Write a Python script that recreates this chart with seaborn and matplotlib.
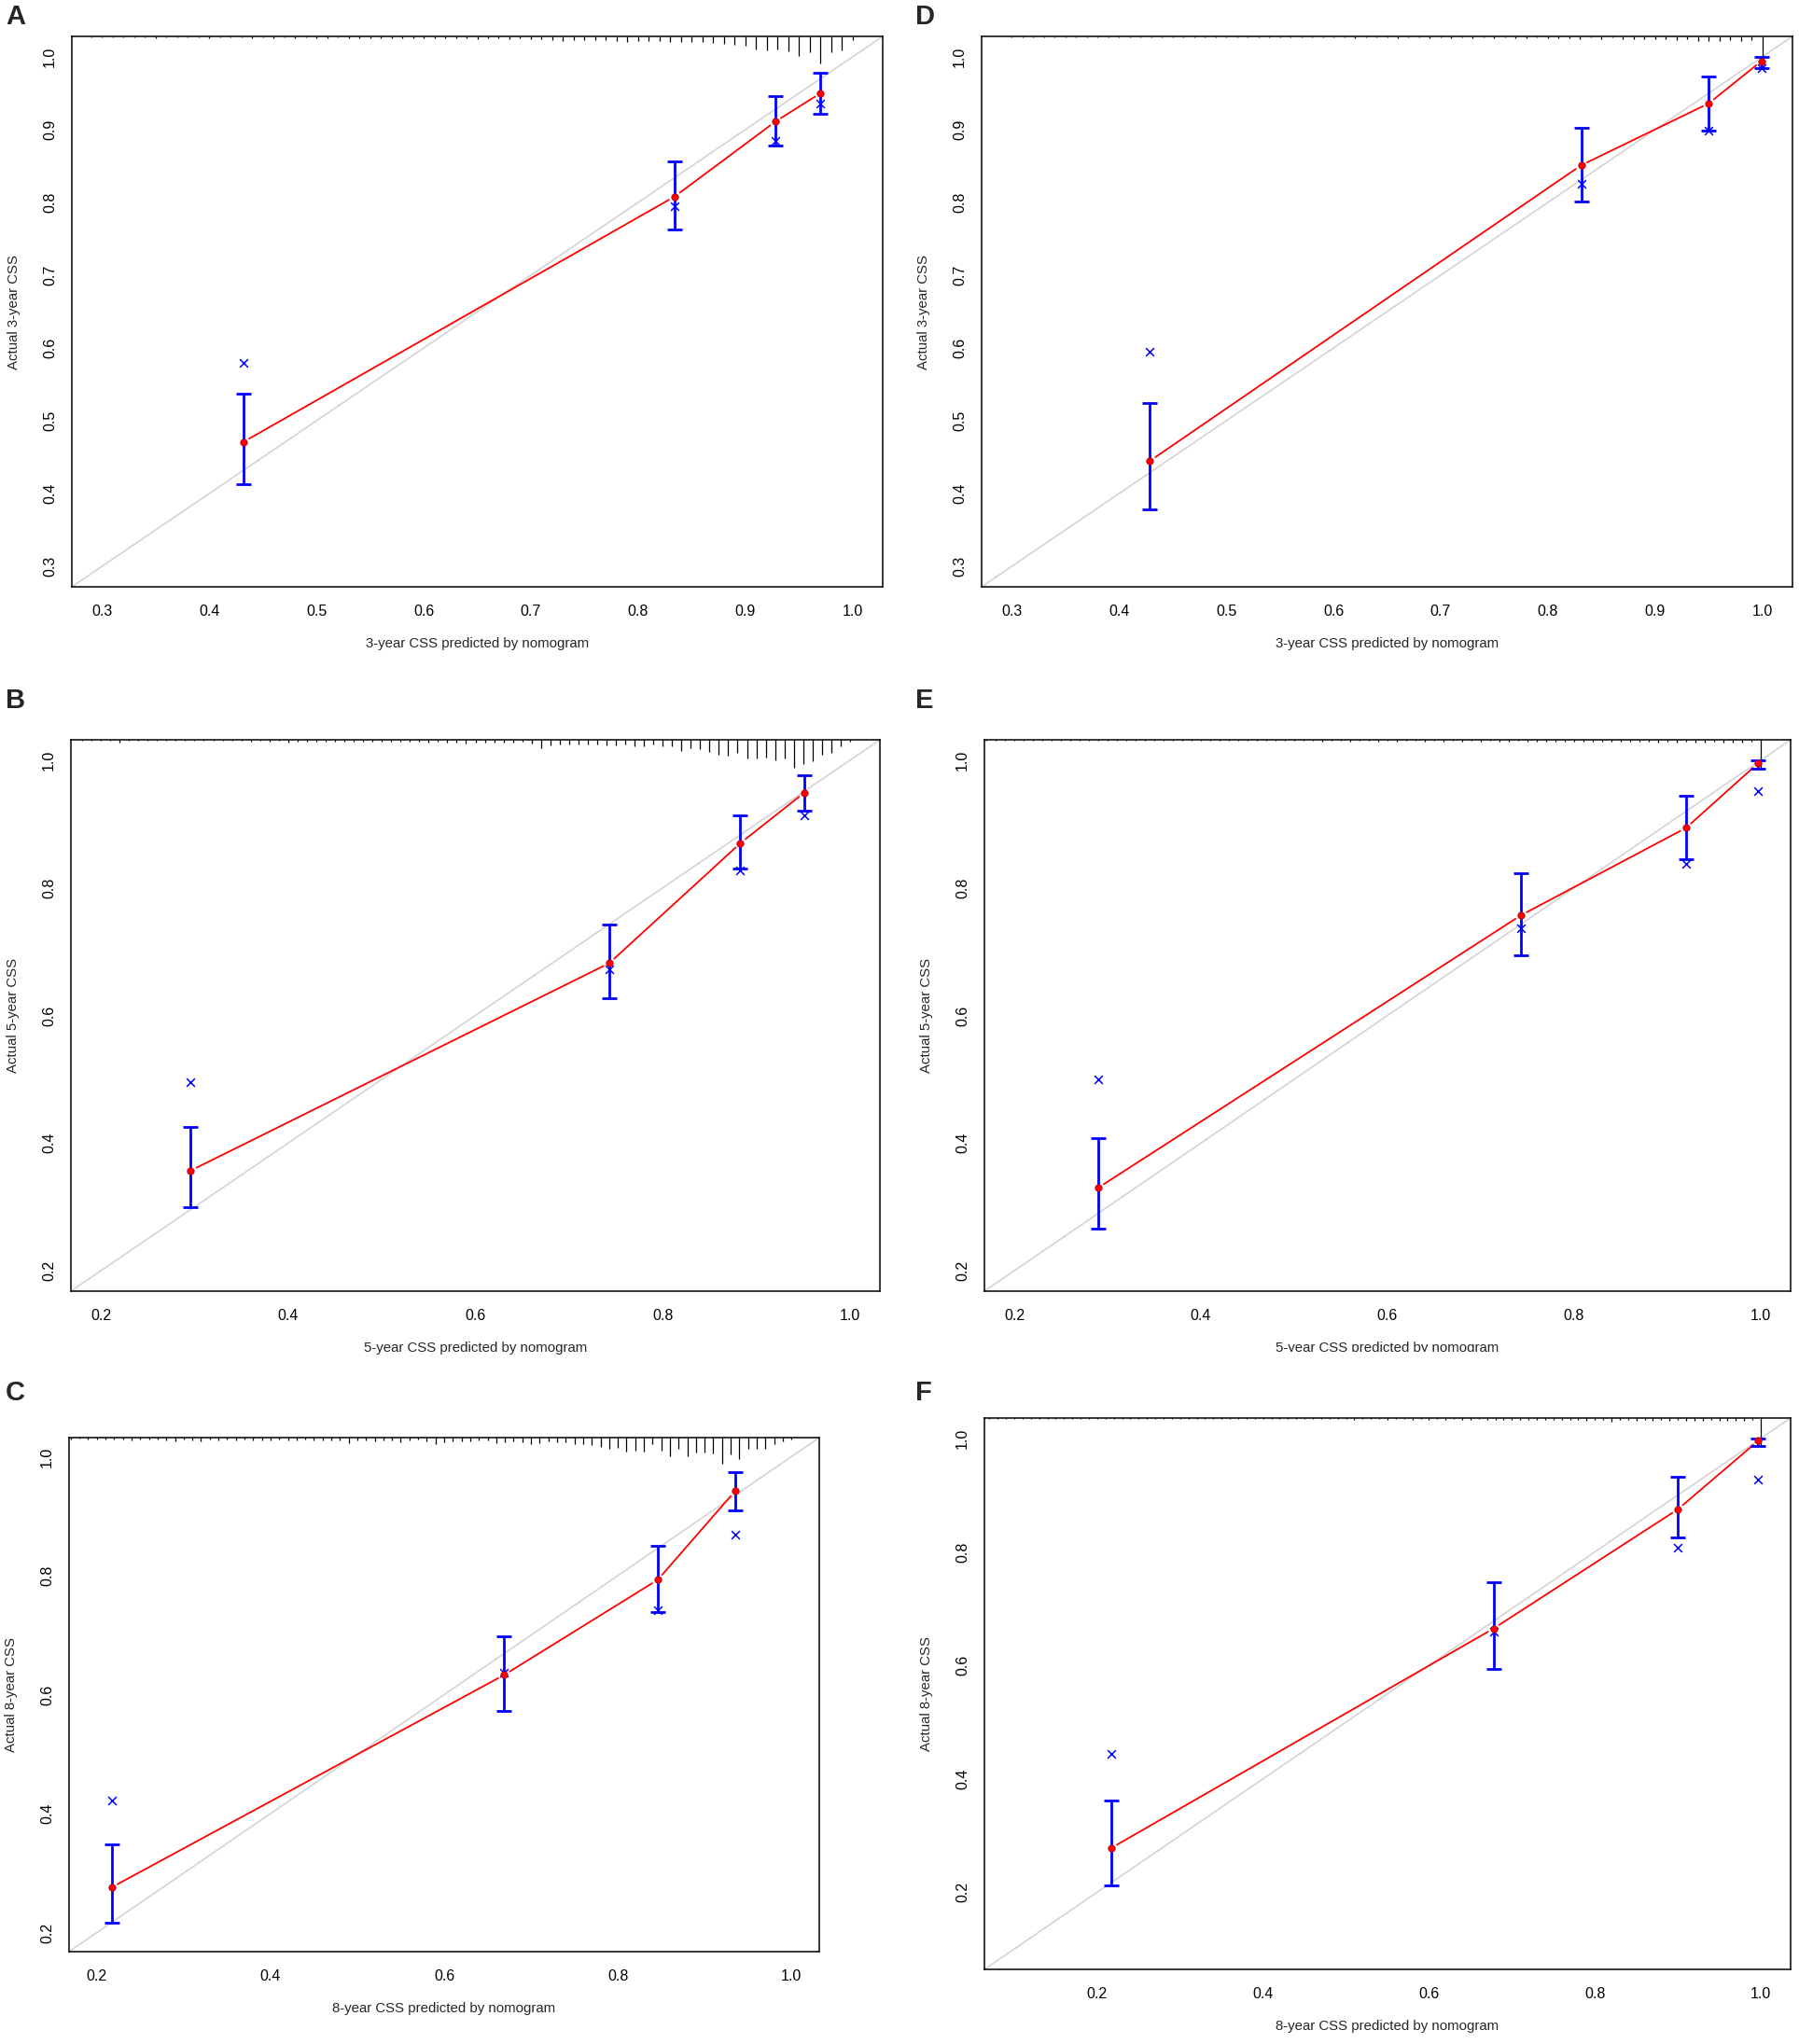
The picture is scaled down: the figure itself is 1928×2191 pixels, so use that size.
import numpy as np
import pandas as pd
import matplotlib
matplotlib.use("Agg")
import matplotlib.pyplot as plt
import seaborn as sns
from matplotlib.patches import Rectangle

sns.set_style("white")
plt.rcParams['font.family'] = ['Liberation Sans', 'DejaVu Sans']

# ---------------- data ----------------
panel_letters = ["A", "B", "C", "D", "E", "F"]
panel_years = [3, 5, 8, 3, 5, 8]

# predicted, observed (red dots), CI low, CI high, bias-corrected (blue x)
A_pred = [0.432, 0.834, 0.928, 0.970]
A_obs = [0.471, 0.808, 0.911, 0.950]
A_lo = [0.413, 0.763, 0.878, 0.922]
A_hi = [0.537, 0.856, 0.946, 0.978]
A_bc = [0.580, 0.795, 0.885, 0.936]

B_pred = [0.296, 0.743, 0.883, 0.951]
B_obs = [0.357, 0.682, 0.870, 0.949]
B_lo = [0.299, 0.627, 0.830, 0.921]
B_hi = [0.425, 0.743, 0.913, 0.977]
B_bc = [0.496, 0.672, 0.827, 0.914]

C_pred = [0.217, 0.669, 0.846, 0.935]
C_obs = [0.276, 0.633, 0.793, 0.942]
C_lo = [0.217, 0.573, 0.739, 0.909]
C_hi = [0.348, 0.698, 0.850, 0.974]
C_bc = [0.422, 0.637, 0.742, 0.869]

D_pred = [0.429, 0.831, 0.950, 0.999]
D_obs = [0.445, 0.851, 0.936, 0.994]
D_lo = [0.378, 0.801, 0.899, 0.985]
D_hi = [0.524, 0.903, 0.973, 1.000]
D_bc = [0.595, 0.825, 0.899, 0.985]

E_pred = [0.290, 0.743, 0.920, 0.997]
E_obs = [0.330, 0.757, 0.894, 0.995]
E_lo = [0.266, 0.695, 0.845, 0.986]
E_hi = [0.408, 0.823, 0.944, 1.000]
E_bc = [0.500, 0.737, 0.837, 0.952]

F_pred = [0.217, 0.678, 0.900, 0.997]
F_obs = [0.278, 0.665, 0.875, 0.996]
F_lo = [0.212, 0.593, 0.825, 0.986]
F_hi = [0.361, 0.747, 0.932, 1.000]
F_bc = [0.444, 0.660, 0.807, 0.927]

# relative spike heights of the predicted-risk histogram (bins of 0.01 ending at 1.00)
A_rug = [0.03, 0.04, 0.05, 0.04, 0.05, 0.04, 0.06, 0.04, 0.05, 0.05, 0.04, 0.06, 0.05, 0.05,
         0.04, 0.06, 0.05, 0.07, 0.05, 0.06, 0.05, 0.06, 0.07, 0.05, 0.06, 0.07, 0.06, 0.08,
         0.06, 0.07, 0.06, 0.08, 0.07, 0.06, 0.08, 0.07, 0.09, 0.07, 0.08, 0.09, 0.08,
         0.09, 0.10, 0.12, 0.17, 0.12, 0.12, 0.12, 0.14, 0.17, 0.21, 0.17, 0.17, 0.17, 0.19,
         0.20, 0.21, 0.22, 0.23, 0.28, 0.31, 0.34, 0.48, 0.50, 0.48, 0.53, 0.70, 0.59, 1.00,
         0.56, 0.50, 0.12]
B_rug = [0.05, 0.05, 0.04, 0.05, 0.10, 0.05, 0.05, 0.04, 0.05, 0.04, 0.05, 0.04, 0.03, 0.05,
         0.04, 0.05, 0.05, 0.05, 0.06, 0.05, 0.06, 0.05, 0.10, 0.06, 0.07, 0.06, 0.07, 0.07,
         0.06, 0.07, 0.07, 0.08, 0.07, 0.07, 0.08, 0.07, 0.08, 0.09, 0.08, 0.10, 0.09, 0.12,
         0.10, 0.10, 0.09, 0.11, 0.10,
         0.08, 0.14, 0.29, 0.20, 0.17, 0.17, 0.17, 0.17, 0.17, 0.20, 0.20, 0.17, 0.25, 0.23,
         0.17, 0.23, 0.25, 0.40, 0.31, 0.34, 0.43, 0.54, 0.57, 0.48, 0.66, 0.66, 0.63, 0.75,
         0.69, 1.00, 0.89, 0.77, 0.54, 0.48, 0.25, 0.08]
C_rug = [0.06, 0.05, 0.06, 0.08, 0.06, 0.08, 0.06, 0.10, 0.07, 0.08, 0.06, 0.10, 0.15, 0.08,
         0.10, 0.15, 0.08, 0.10, 0.09, 0.12, 0.08, 0.10, 0.12, 0.10, 0.09, 0.12, 0.10, 0.09,
         0.12, 0.10, 0.12, 0.10, 0.20, 0.10, 0.12, 0.15, 0.10, 0.12, 0.18,
         0.12, 0.09, 0.15, 0.27, 0.18, 0.15, 0.15, 0.15, 0.12, 0.12, 0.21, 0.18, 0.15, 0.18,
         0.24, 0.21, 0.15, 0.18, 0.18, 0.27, 0.27, 0.30, 0.37, 0.43, 0.39, 0.55, 0.51, 0.55,
         0.24, 0.51, 0.73, 0.43, 0.73, 0.57, 0.57, 0.63, 1.00, 0.67, 0.83, 0.45, 0.45, 0.45,
         0.27, 0.15, 0.09]
D_rug = [0.03, 0.04, 0.03, 0.04, 0.05, 0.03, 0.04, 0.04, 0.03, 0.05, 0.04, 0.03, 0.04, 0.05,
         0.04, 0.03, 0.04, 0.05, 0.04, 0.04, 0.03, 0.05, 0.04, 0.04, 0.05, 0.03, 0.04, 0.05,
         0.04, 0.05, 0.04, 0.05, 0.06, 0.04, 0.05, 0.04, 0.06, 0.05, 0.04, 0.06, 0.05, 0.06,
         0.05, 0.07, 0.05, 0.06, 0.05, 0.07, 0.06, 0.05, 0.07, 0.06, 0.07,
         0.11, 0.05, 0.09, 0.05, 0.09, 0.11, 0.09, 0.11, 0.11, 0.13, 0.11, 0.16, 0.16, 0.16,
         0.13, 0.16, 0.13, 1.00]
E_rug = [0.03, 0.04, 0.03, 0.04, 0.03, 0.05, 0.03, 0.04, 0.04, 0.03, 0.05, 0.04, 0.03, 0.04,
         0.05, 0.04, 0.03, 0.04, 0.05, 0.04, 0.04, 0.03, 0.05, 0.04, 0.04, 0.05, 0.03, 0.04,
         0.05, 0.04, 0.05, 0.04, 0.05, 0.04, 0.05, 0.04, 0.06, 0.05, 0.04, 0.06, 0.05, 0.04,
         0.06, 0.05, 0.06, 0.05, 0.04, 0.06, 0.05, 0.06, 0.05, 0.07, 0.05, 0.06, 0.05, 0.07,
         0.06, 0.05, 0.07, 0.06, 0.08, 0.06, 0.07, 0.06, 0.08, 0.06, 0.07, 0.08, 0.07, 0.06,
         0.08, 0.07, 0.09, 0.08, 0.09, 0.07, 0.09, 0.10, 0.08, 0.09, 0.10, 0.09, 0.08, 1.00]
F_rug = [0.03, 0.03, 0.04, 0.03, 0.04, 0.03, 0.04, 0.03, 0.04, 0.04, 0.03, 0.04, 0.03, 0.04,
         0.04, 0.03, 0.05, 0.04, 0.03, 0.04, 0.04, 0.05, 0.03, 0.04, 0.04, 0.05, 0.04, 0.03,
         0.05, 0.04, 0.04, 0.05, 0.04, 0.04, 0.05, 0.04, 0.05, 0.04, 0.05, 0.04, 0.05, 0.05,
         0.04, 0.05, 0.06, 0.04, 0.05, 0.05, 0.06, 0.04, 0.05, 0.06, 0.05, 0.06, 0.05, 0.06,
         0.05, 0.06, 0.07, 0.05, 0.06, 0.07, 0.06, 0.07, 0.06, 0.07, 0.06, 0.08, 0.06, 0.07,
         0.08, 0.07, 0.10, 0.07, 0.08, 0.12, 0.08, 0.07, 0.09, 0.08, 0.09, 0.08, 0.10, 0.08,
         0.09, 0.10, 0.09, 0.08, 0.10, 0.09, 0.10, 0.09, 0.08, 1.00]

# axis ranges and ticks per panel
A_ticks = [0.3, 0.4, 0.5, 0.6, 0.7, 0.8, 0.9, 1.0]
B_ticks = [0.2, 0.4, 0.6, 0.8, 1.0]
C_ticks = [0.2, 0.4, 0.6, 0.8, 1.0]
D_ticks = [0.3, 0.4, 0.5, 0.6, 0.7, 0.8, 0.9, 1.0]
E_ticks = [0.2, 0.4, 0.6, 0.8, 1.0]
F_ticks = [0.2, 0.4, 0.6, 0.8, 1.0]
A_range = [0.3, 1.0]
B_range = [0.2, 1.0]
C_range = [0.2, 1.0]
D_range = [0.3, 1.0]
E_range = [0.2, 1.0]
F_range = [0.1, 1.0]

panels = {
    "A": (A_pred, A_obs, A_lo, A_hi, A_bc, A_rug, A_ticks, A_range),
    "B": (B_pred, B_obs, B_lo, B_hi, B_bc, B_rug, B_ticks, B_range),
    "C": (C_pred, C_obs, C_lo, C_hi, C_bc, C_rug, C_ticks, C_range),
    "D": (D_pred, D_obs, D_lo, D_hi, D_bc, D_rug, D_ticks, D_range),
    "E": (E_pred, E_obs, E_lo, E_hi, E_bc, E_rug, E_ticks, E_range),
    "F": (F_pred, F_obs, F_lo, F_hi, F_bc, F_rug, F_ticks, F_range),
}

# ---------------- layout (pixel boxes: left, top, right, bottom) ----------------
W, H = 1928, 2191
boxes = {
    "A": (77, 39, 946, 629),
    "D": (1052, 39, 1921, 629),
    "B": (76, 793, 943, 1384),
    "E": (1055, 793, 1919, 1384),
    "C": (74, 1541, 878, 2092),
    "F": (1055, 1520, 1919, 2111),
}
letter_pos = {"A": (6, 9), "D": (981, 9), "B": (6, 742), "E": (981, 742),
              "C": (6, 1484), "F": (981, 1484)}

fig = plt.figure(figsize=(W / 100, H / 100), dpi=100)
fig.patch.set_facecolor("white")


def gapped(ax, xs, ys, gap_px=7):
    pts = ax.transData.transform(np.column_stack([xs, ys]))
    inv = ax.transData.inverted()
    rows = []
    for i in range(len(xs) - 1):
        p0, p1 = pts[i], pts[i + 1]
        d = p1 - p0
        u = d / np.hypot(d[0], d[1])
        q = inv.transform(np.array([p0 + u * gap_px, p1 - u * gap_px]))
        rows.append({"x": q[0, 0], "y": q[0, 1], "seg": i})
        rows.append({"x": q[1, 0], "y": q[1, 1], "seg": i})
    return pd.DataFrame(rows)


for key in ["A", "B", "C", "D", "E", "F"]:
    pred, obs, lo, hi, bc, rug, ticks, rng = panels[key]
    yr = panel_years[panel_letters.index(key)]
    l, t, r, b = boxes[key]
    wpx, hpx = r - l, b - t
    ax = fig.add_axes([l / W, 1 - b / H, wpx / W, hpx / H])
    ext = 0.04 * (rng[1] - rng[0])
    lim = (rng[0] - ext, rng[1] + ext)
    ax.set_xlim(lim)
    ax.set_ylim(lim)

    # ideal line
    ax.plot(lim, lim, color="#d4d4d4", lw=1.2, zorder=1)

    # histogram spikes at top
    bins = np.round(1.00 - 0.01 * np.arange(len(rug))[::-1], 2)
    span = lim[1] - lim[0]
    ax.vlines(bins, lim[1] - np.array(rug) * 0.05 * span, lim[1],
              colors="black", lw=0.9, zorder=2)

    # red observed line with gaps around points
    seg = gapped(ax, pred, obs)
    sns.lineplot(data=seg, x="x", y="y", units="seg", estimator=None, sort=False,
                 color="red", lw=1.3, ax=ax, zorder=3)

    # error bars
    ax.errorbar(pred, obs, yerr=[np.array(obs) - np.array(lo), np.array(hi) - np.array(obs)],
                fmt="none", ecolor="blue", elinewidth=2.0, capsize=5.5, capthick=2.0,
                zorder=4)

    pts = pd.DataFrame({"pred": pred, "obs": obs, "bc": bc})
    sns.scatterplot(data=pts, x="pred", y="obs", color="red", s=28,
                    edgecolor="#b00010", linewidth=0.6, ax=ax, zorder=6)
    sns.scatterplot(data=pts, x="pred", y="bc", color="blue", marker="x", s=40,
                    linewidth=1.1, ax=ax, zorder=5)

    ax.set_xticks(ticks)
    ax.set_yticks(ticks)
    ax.set_xticklabels([f"{v:.1f}" for v in ticks], fontsize=11.5)
    ax.set_yticklabels([f"{v:.1f}" for v in ticks], fontsize=11.5, rotation=90, va="center")
    ax.tick_params(axis="both", direction="out", length=6.5, width=1.0, color="black",
                   labelcolor="black")
    ax.tick_params(axis="x", pad=7)
    ax.tick_params(axis="y", pad=5)
    for sp in ax.spines.values():
        sp.set_visible(True)
        sp.set_color("black")
        sp.set_linewidth(1.1)

    ax.set_xlabel(f"{yr}-year CSS predicted by nomogram", fontsize=10.8, va="center")
    ax.set_ylabel(f"Actual {yr}-year CSS", fontsize=10.8, va="center")
    ax.xaxis.set_label_coords(0.5, -61 / hpx)
    ax.yaxis.set_label_coords(-62 / wpx, 0.5)

    lx, ly = letter_pos[key]
    fig.text((lx) / W, 1 - (ly - 5) / H, key, fontsize=21, fontweight="bold",
             ha="left", va="top")

# the E x-axis title is cut off in the reference figure
fig.add_artist(Rectangle((1250 / W, 1 - 1475 / H), 450 / W, 26 / H,
                         transform=fig.transFigure, facecolor="white",
                         edgecolor="none", zorder=20))

fig.savefig("out.png", dpi=100, facecolor="white")
